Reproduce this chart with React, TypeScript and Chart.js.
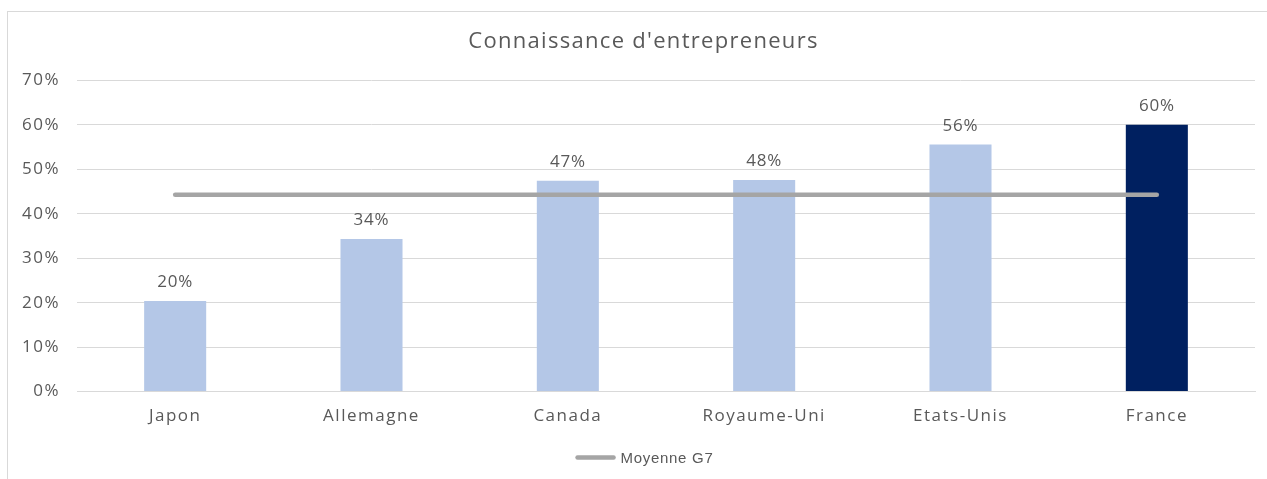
import React, { useEffect, useRef } from "react";
import { Chart, registerables } from "chart.js";

Chart.register(...registerables);

const categories = ["Japon", "Allemagne", "Canada", "Royaume-Uni", "Etats-Unis", "France"];
const values = [20.4, 34.3, 47.4, 47.6, 55.6, 60.0];
const averageG7 = [44.3, 44.3, 44.3, 44.3, 44.3, 44.3];
const barColors = ["#b4c7e7", "#b4c7e7", "#b4c7e7", "#b4c7e7", "#b4c7e7", "#002060"];
const yTicks = [0, 10, 20, 30, 40, 50, 60, 70];
const titleText = "Connaissance d'entrepreneurs";
const legendText = "Moyenne G7";

const TEXT = "#595959";
const LINE = "#a5a5a5";
const FONT = "'Open Sans', sans-serif";

const spacingPlugin = {
  id: "spacing",
  beforeLayout(chart: any) {
    chart.ctx.letterSpacing = "1.5px";
  },
  beforeDraw(chart: any) {
    chart.ctx.letterSpacing = "1.5px";
  },
};

const labelPlugin = {
  id: "barLabels",
  afterDatasetsDraw(chart: any) {
    const ctx = chart.ctx;
    const meta = chart.getDatasetMeta(0);
    ctx.save();
    ctx.letterSpacing = "0.8px";
    ctx.font = `17px ${FONT}`;
    ctx.fillStyle = TEXT;
    ctx.textAlign = "center";
    ctx.textBaseline = "bottom";
    meta.data.forEach((el: any, i: number) => {
      ctx.fillText(`${Math.round(values[i])}%`, el.x, el.y - 10);
    });
    ctx.restore();
  },
};

const titleLegendPlugin = {
  id: "titleLegend",
  afterDraw(chart: any) {
    const ctx = chart.ctx;
    const t = chart.titleBlock;
    const cx = chart.width / 2 + 6;
    ctx.save();
    ctx.letterSpacing = "1.3px";
    ctx.font = `22px ${FONT}`;
    ctx.fillStyle = TEXT;
    ctx.textAlign = "center";
    ctx.textBaseline = "middle";
    ctx.fillText(titleText, cx, t.top + 11);

    // legend
    ctx.letterSpacing = "0.7px";
    ctx.font = `15px 'Liberation Sans', sans-serif`;
    const tw = ctx.measureText(legendText).width;
    const lineW = 40;
    const gap = 5;
    const total = lineW + gap + tw;
    const left = cx + 1 - total / 2;
    const y = chart.chartArea.bottom + 66;
    ctx.strokeStyle = LINE;
    ctx.lineWidth = 4.5;
    ctx.lineCap = "round";
    ctx.beginPath();
    ctx.moveTo(left + 2, y);
    ctx.lineTo(left + lineW - 2, y);
    ctx.stroke();
    ctx.textAlign = "left";
    ctx.fillText(legendText, left + lineW + gap, y + 1);
    ctx.restore();
  },
};

export default function App() {
  const ref = useRef<HTMLCanvasElement>(null);
  useEffect(() => {
    if (!ref.current) return;
    const chart = new Chart(ref.current, {
      type: "bar",
      data: {
        labels: categories,
        datasets: [
          {
            type: "bar",
            label: "Connaissance",
            data: values,
            backgroundColor: barColors,
            categoryPercentage: 1,
            barPercentage: 0.316,
            order: 2,
          },
          {
            type: "line",
            label: legendText,
            data: averageG7,
            borderColor: LINE,
            backgroundColor: LINE,
            borderWidth: 4.5,
            borderCapStyle: "round",
            pointRadius: 0,
            order: 1,
          } as any,
        ],
      },
      options: {
        animation: false,
        responsive: false,
        maintainAspectRatio: false,
        layout: { padding: { left: 0, right: 12, top: 19, bottom: 38 } },
        plugins: {
          title: {
            display: true,
            text: titleText,
            color: "rgba(0,0,0,0)",
            font: { family: FONT, size: 22, weight: "normal" },
            padding: { top: 0, bottom: 23 },
          },
          legend: { display: false },
          tooltip: { enabled: false },
        },
        scales: {
          x: {
            grid: { display: false },
            border: { color: "#d9d9d9", width: 1 },
            afterFit: (scale: any) => {
              scale.height += 9;
            },
            ticks: {
              color: TEXT,
              font: { family: FONT, size: 17 },
              padding: 6,
            },
          },
          y: {
            min: 0,
            max: 70,
            afterFit: (scale: any) => {
              scale.width = 69;
            },
            afterBuildTicks: (scale: any) => {
              scale.ticks = yTicks.map((v) => ({ value: v }));
            },
            grid: { color: "#d9d9d9", drawTicks: false },
            border: { display: false },
            ticks: {
              color: TEXT,
              font: { family: FONT, size: 17 },
              padding: 17,
              callback: (v: any) => `${v}%`,
            },
          },
        },
      },
      plugins: [spacingPlugin, labelPlugin, titleLegendPlugin],
    });
    return () => chart.destroy();
  }, []);

  return (
    <div>
      <div
        style={{
          position: "fixed",
          left: 7,
          top: 11,
          width: 1300,
          height: 500,
          border: "1px solid #d9d9d9",
          boxSizing: "border-box",
        }}
      />
      <canvas
        ref={ref}
        width={1259}
        height={467}
        style={{ position: "fixed", left: 8, top: 12, width: 1259, height: 467 }}
      />
    </div>
  );
}
